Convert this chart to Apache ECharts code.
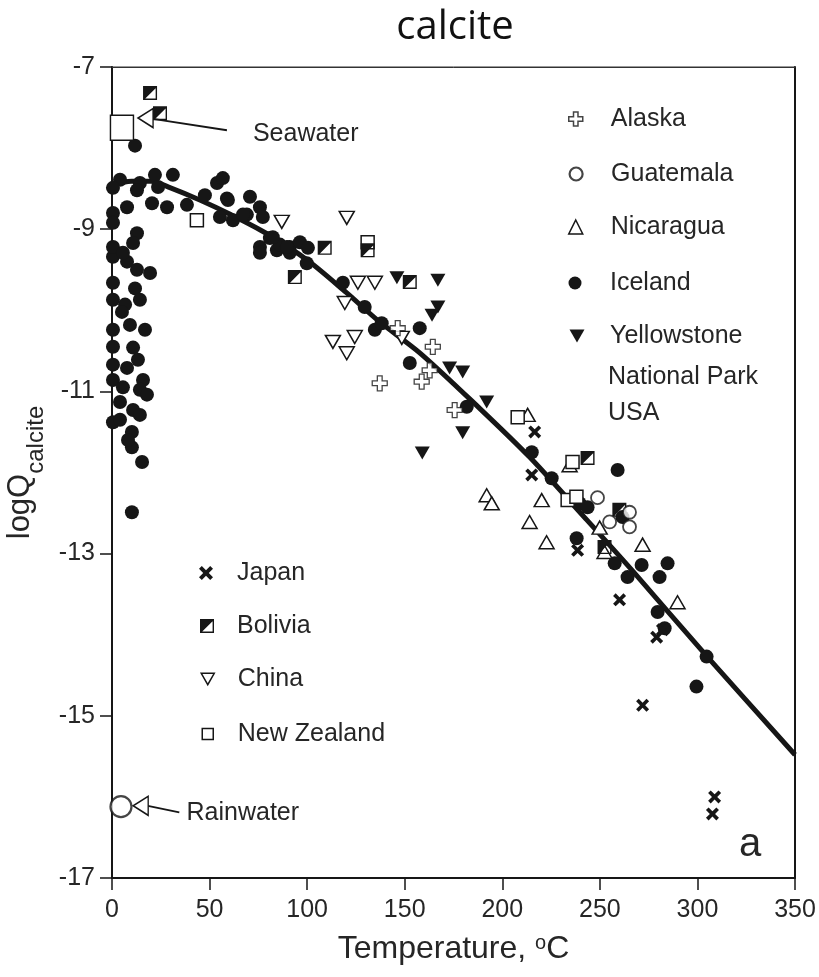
<!DOCTYPE html>
<html>
<head>
<meta charset="utf-8">
<script src="https://cdn.jsdelivr.net/npm/echarts@6.0.0/dist/echarts.min.js"></script>
<style>
  html, body { margin: 0; padding: 0; background: #fff; }
  #chart { width: 819px; height: 977px; }
</style>
</head>
<body>
<div id="chart"></div>
<script>
// Calcite saturation (log Q) of geothermal waters against temperature.
const xTicks = { min: 0, max: 350, step: 50 };
const yTicks = { min: -17, max: -7, step: 2 };

// Fitted log K curve for calcite: [temperature, logQ]
const curvePts = [
  [0, -8.46], [10, -8.41], [20, -8.41], [30, -8.49], [45, -8.64], [60, -8.81],
  [79, -9.05], [100, -9.38], [120, -9.78], [137, -10.14], [158, -10.53],
  [188, -11.2], [214, -11.81], [242, -12.55], [267, -13.22], [305, -14.27], [350, -15.48]
];

const icelandPts = [
  [0.5, -9.34], [7.7, -9.40], [12.8, -9.50], [19.5, -9.54], [0.5, -9.66], [11.8, -9.73],
  [0.5, -9.87], [6.7, -9.93], [5.1, -10.02], [9.2, -10.18], [16.9, -10.24], [0.5, -10.24],
  [0.5, -10.45], [10.8, -10.46], [13.3, -10.61], [0.5, -10.67], [7.7, -10.71], [15.9, -10.86],
  [0.5, -10.86], [5.6, -10.95], [14.3, -10.98], [4.1, -11.13], [10.8, -11.23], [0.5, -11.38],
  [10.2, -11.5], [10.2, -11.69], [15.4, -11.87], [10.2, -12.49], [14.3, -9.87], [8.2, -11.6],
  [4.1, -11.35], [14.3, -11.29], [17.9, -11.04],
  [11.8, -7.97], [4.1, -8.39], [14.3, -8.43], [22.0, -8.33], [31.2, -8.33], [0.5, -8.49],
  [12.8, -8.52], [23.6, -8.48], [20.5, -8.68], [28.2, -8.73], [38.4, -8.70], [53.8, -8.43],
  [56.8, -8.37], [47.6, -8.58], [58.9, -8.62], [70.7, -8.60], [75.8, -8.73], [55.3, -8.85],
  [62.0, -8.89], [69.1, -8.82], [77.3, -8.85], [0.5, -8.80], [7.7, -8.73], [0.5, -8.92],
  [12.8, -9.05], [10.8, -9.17], [0.5, -9.22], [5.6, -9.29], [59.4, -8.64], [67.1, -8.82],
  [80.9, -9.11], [75.8, -9.22], [75.8, -9.29], [84.5, -9.26], [86.0, -9.19], [91.1, -9.22],
  [96.3, -9.16], [100.4, -9.23], [91.1, -9.29], [99.8, -9.42], [82.4, -9.10], [89.6, -9.22],
  [118.3, -9.66], [129.5, -9.96], [134.7, -10.24], [138.2, -10.16], [157.7, -10.22],
  [152.6, -10.65], [181.8, -11.19], [215.1, -11.75], [225.3, -12.07], [259.1, -11.97],
  [239.6, -12.38], [243.7, -12.43], [261.6, -12.55], [238.1, -12.81], [257.6, -13.12],
  [271.4, -13.14], [284.7, -13.12], [264.2, -13.29], [280.6, -13.29], [279.6, -13.72],
  [283.2, -13.92], [304.7, -14.27], [299.5, -14.64]
];
const yellowstonePts = [
  [146, -9.60], [167, -9.63], [167, -9.96], [164, -10.06], [173, -10.71],
  [179.7, -10.76], [192, -11.13], [179.7, -11.51], [159, -11.76]
];
const boliviaPts = [
  [19.5, -7.32], [24.6, -7.57], [109, -9.23], [131, -9.26], [93.7, -9.59],
  [152.6, -9.65], [243.7, -11.82], [252.4, -12.92], [260, -12.46]
];
const newZealandPts = [
  [43.5, -8.89], [131, -9.16], [207.9, -11.32], [236, -11.87], [233.5, -12.34], [238, -12.30]
];
const chinaPts = [
  [87, -8.91], [120.3, -8.86], [126, -9.66], [134.7, -9.66], [119.3, -9.91],
  [113.2, -10.39], [124.4, -10.33], [120.3, -10.53], [148.5, -10.34]
];
const alaskaPts = [
  [146.4, -10.22], [164.4, -10.45], [137.2, -10.90], [158.7, -10.88], [162.8, -10.74], [175.6, -11.23]
];
const guatemalaPts = [[248.8, -12.31], [265.2, -12.49], [255, -12.61], [265.2, -12.67]];
const nicaraguaPts = [
  [213, -11.29], [192, -12.28], [194.6, -12.38], [220.2, -12.34], [214, -12.61], [222.7, -12.86],
  [234.5, -11.91], [249.9, -12.68], [271.9, -12.89], [252.4, -12.98], [289.8, -13.60]
];
const japanPts = [
  [216.6, -11.50], [215.1, -12.03], [238.6, -12.96], [260.1, -13.57], [279.1, -14.03],
  [282.1, -13.94], [271.9, -14.87], [308.8, -16.0], [307.7, -16.21]
];

// Reference waters and their callouts
const seawaterPt = [[5.1, -7.75]];
const rainwaterPt = [[4.6, -16.12]];
const seawaterArrowHead = [[17.2, -7.63]];
const seawaterArrowLine = [[21.0, -7.64], [58.9, -7.78]];
const seawaterLabel = [[72.2, -7.83]];
const rainwaterArrowHead = [[14.7, -16.11]];
const rainwaterArrowLine = [[18.4, -16.11], [34.5, -16.19]];
const rainwaterLabel = [[38.2, -16.2]];

const FONT = "'Liberation Sans', Arial, Helvetica, sans-serif";
const INK = '#161616';
const TEXT = '#262626';

const CROSS_PATH = 'path://M3.4,0H6.6V3.4H10V6.6H6.6V10H3.4V6.6H0V3.4H3.4Z';
const X_PATH = 'path://M2,0L5,3L8,0L10,2L7,5L10,8L8,10L5,7L2,10L0,8L3,5L0,2Z';
const HALF_SQUARE_PATH = 'path://M0,0H10V10H0Z M9,1.6L1.6,9L9,9Z';
const DOWN_TRIANGLE_PATH = 'path://M0,0L10,0L5,8.7Z';

function scatter(name, data, symbol, size, hollow, extra) {
  return Object.assign({
    name: name,
    type: 'scatter',
    data: data,
    symbol: symbol,
    symbolSize: size,
    silent: true,
    itemStyle: hollow
      ? { color: '#ffffff', borderColor: INK, borderWidth: 1.5, opacity: 1 }
      : { color: INK, borderWidth: 0, opacity: 1 },
    emphasis: { disabled: true },
    z: 3
  }, extra || {});
}

function legendItem(name, cx, cy, size, textX, borderWidth, icon) {
  const entry = icon ? { name: name, icon: icon } : name;
  return {
    data: [entry],
    orient: 'vertical',
    left: cx - size / 2,
    top: cy - 15,
    padding: 0,
    itemWidth: size,
    itemHeight: size,
    selectedMode: false,
    itemStyle: { borderWidth: borderWidth },
    textStyle: {
      fontFamily: FONT, fontSize: 25, color: TEXT, lineHeight: 30,
      padding: [0, 0, 0, textX - (cx + size / 2) - 5]
    }
  };
}

const chart = echarts.init(document.getElementById('chart'), null, { renderer: 'canvas' });

const option = {
  animation: false,
  backgroundColor: '#ffffff',
  grid: {
    left: 112, right: 24, top: 67, bottom: 99,
    containLabel: false, outerBoundsMode: 'none',
    show: true, borderColor: '#333', borderWidth: 1, backgroundColor: 'transparent'
  },
  xAxis: [{
    type: 'value', min: xTicks.min, max: xTicks.max, interval: xTicks.step,
    axisLine: { show: true, onZero: false, lineStyle: { color: INK, width: 2 } },
    axisTick: { show: true, inside: false, length: 12, lineStyle: { color: INK, width: 1.5 } },
    axisLabel: { fontFamily: FONT, fontSize: 25, color: TEXT, margin: 20, showMinLabel: true, showMaxLabel: true },
    splitLine: { show: false },
    name: '{a|Temperature, }{s|o}{a|C}',
    nameLocation: 'middle', nameGap: 55,
    nameTextStyle: {
      rich: {
        a: { fontFamily: FONT, fontSize: 32, color: TEXT, lineHeight: 38, verticalAlign: 'top' },
        s: { fontFamily: FONT, fontSize: 20, color: TEXT, lineHeight: 20, verticalAlign: 'top' }
      }
    }
  }, {
    type: 'value', position: 'top', min: xTicks.min, max: xTicks.max,
    axisLine: { show: true, onZero: false, lineStyle: { color: '#333', width: 1 } },
    axisTick: { show: false }, axisLabel: { show: false }, splitLine: { show: false }
  }],
  yAxis: [{
    type: 'value', min: yTicks.min, max: yTicks.max, interval: yTicks.step,
    axisLine: { show: true, onZero: false, lineStyle: { color: INK, width: 2 } },
    axisTick: { show: true, inside: false, length: 12, lineStyle: { color: INK, width: 1.5 } },
    axisLabel: { fontFamily: FONT, fontSize: 25, color: TEXT, margin: 17, showMinLabel: true, showMaxLabel: true },
    splitLine: { show: false },
    name: '{a|logQ}{b|calcite}',
    nameLocation: 'middle', nameGap: 62,
    nameTextStyle: {
      rich: {
        a: { fontFamily: FONT, fontSize: 31, color: TEXT, lineHeight: 36, verticalAlign: 'top' },
        b: { fontFamily: FONT, fontSize: 24, color: TEXT, lineHeight: 24, verticalAlign: 'top', padding: [19, 0, 0, 0] }
      }
    }
  }, {
    type: 'value', position: 'right', min: yTicks.min, max: yTicks.max,
    axisLine: { show: true, onZero: false, lineStyle: { color: INK, width: 2 } },
    axisTick: { show: false }, axisLabel: { show: false }, splitLine: { show: false }
  }],
  legend: [
    legendItem('Alaska', 575, 119, 14, 610, 1.5),
    legendItem('Guatemala', 575, 174, 13, 610, 2.2),
    legendItem('Nicaragua', 575, 227, 14, 610, 1.5),
    legendItem('Iceland', 575, 283, 13, 610, 0),
    legendItem('Yellowstone', 577, 336, 15, 610, 0, DOWN_TRIANGLE_PATH),
    legendItem('Japan', 206, 573, 14, 237, 0),
    legendItem('Bolivia', 207, 626, 14, 237, 0),
    legendItem('China', 207, 679, 13, 237, 1.5, DOWN_TRIANGLE_PATH),
    legendItem('New Zealand', 207, 734, 11, 237, 1.5)
  ],
  graphic: [
    {
      type: 'text', x: 455, y: 28,
      style: { text: 'calcite', font: "40px 'Open Sans', 'Noto Sans', sans-serif", fill: '#111', align: 'center', verticalAlign: 'middle' }
    },
    {
      type: 'text', x: 608, y: 359,
      style: { text: 'National Park\nUSA', font: '25px ' + FONT, fill: TEXT, lineHeight: 36, verticalAlign: 'top' }
    },
    {
      type: 'text', x: 750, y: 845,
      style: { text: 'a', font: '40px ' + FONT, fill: TEXT, align: 'center', verticalAlign: 'middle' }
    }
  ],
  series: [
    {
      name: 'fit', type: 'line', data: curvePts, smooth: 0.3, symbol: 'none', silent: true,
      lineStyle: { color: INK, width: 5 }, z: 2, emphasis: { disabled: true }
    },
    scatter('Iceland', icelandPts, 'circle', 14, false),
    scatter('Yellowstone', yellowstonePts, 'triangle', [15, 13], false, { symbolRotate: 180 }),
    scatter('China', chinaPts, 'triangle', [15, 13], true, { symbolRotate: 180 }),
    scatter('Nicaragua', nicaraguaPts, 'triangle', [15, 13], true),
    scatter('New Zealand', newZealandPts, 'rect', 13, true),
    scatter('Bolivia', boliviaPts, HALF_SQUARE_PATH, 14, false),
    scatter('Guatemala', guatemalaPts, 'circle', 13, true, { itemStyle: { color: '#fff', borderColor: INK, borderWidth: 1.8 } }),
    scatter('Alaska', alaskaPts, CROSS_PATH, 15, true, { itemStyle: { color: '#fff', borderColor: INK, borderWidth: 1.3 } }),
    scatter('Japan', japanPts, X_PATH, 13, false),
    scatter('Seawater', seawaterPt, 'rect', [23, 25], true),
    scatter('Rainwater', rainwaterPt, 'circle', 21, true, { itemStyle: { color: '#fff', borderColor: INK, borderWidth: 2.2 } }),
    {
      name: 'seawaterArrow', type: 'line', data: seawaterArrowLine, symbol: 'none', silent: true,
      lineStyle: { color: INK, width: 1.8 }, z: 4, emphasis: { disabled: true }
    },
    {
      name: 'rainwaterArrow', type: 'line', data: rainwaterArrowLine, symbol: 'none', silent: true,
      lineStyle: { color: INK, width: 1.8 }, z: 4, emphasis: { disabled: true }
    },
    scatter('seawaterHead', seawaterArrowHead, 'triangle', [19, 15], true, { symbolRotate: 90, z: 5 }),
    scatter('rainwaterHead', rainwaterArrowHead, 'triangle', [19, 15], true, { symbolRotate: 90, z: 5 }),
    scatter('seawaterText', seawaterLabel, 'circle', 0, false, {
      label: { show: true, position: 'right', distance: 0, formatter: 'Seawater', fontFamily: FONT, fontSize: 25, color: TEXT }
    }),
    scatter('rainwaterText', rainwaterLabel, 'circle', 0, false, {
      label: { show: true, position: 'right', distance: 0, formatter: 'Rainwater', fontFamily: FONT, fontSize: 25, color: TEXT }
    })
  ]
};

chart.setOption(option);
</script>
</body>
</html>
